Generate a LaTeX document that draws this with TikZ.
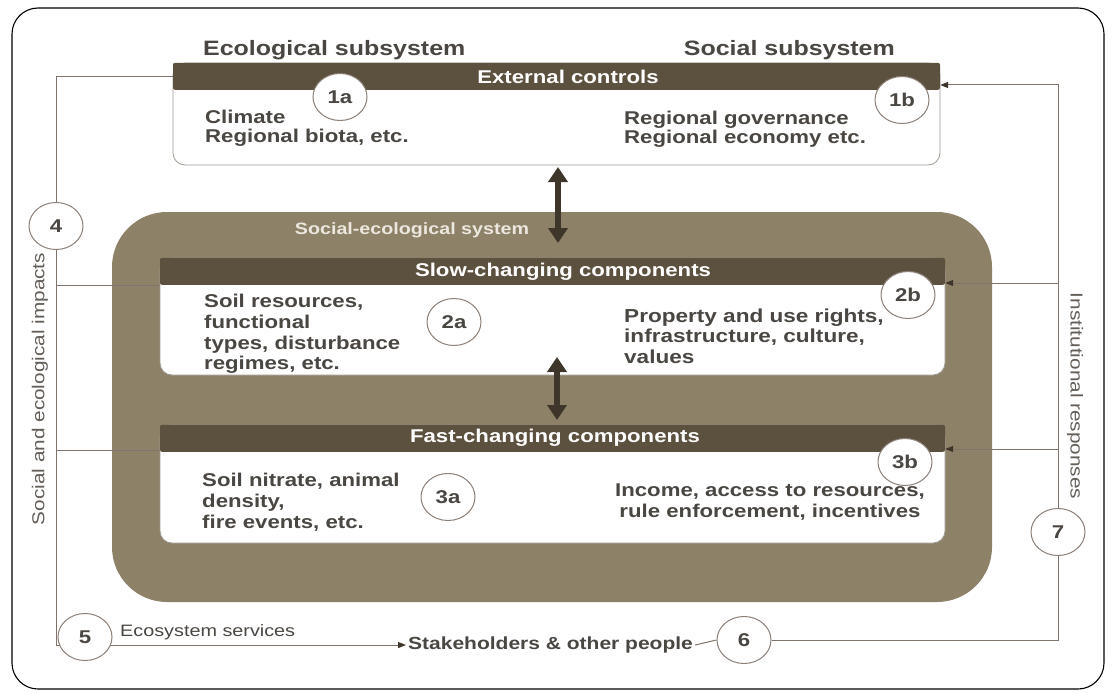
\documentclass[tikz,border=0pt]{standalone}
\usepackage{fontspec}
\setmainfont[FakeStretch=1.2]{Liberation Sans}
\usetikzlibrary{arrows.meta,shapes.geometric,calc}
\pgfdeclarelayer{back}
\pgfdeclarelayer{lines}
\pgfsetlayers{back,lines,main}
\definecolor{hdr}{RGB}{92,80,62}
\definecolor{ses}{RGB}{141,129,104}
\definecolor{txt}{RGB}{74,70,66}
\definecolor{lin}{RGB}{128,116,108}
\definecolor{circ}{RGB}{140,128,120}
\definecolor{boxline}{RGB}{160,154,146}
\definecolor{dbl}{RGB}{62,54,42}
\definecolor{sestxt}{RGB}{236,231,222}
\definecolor{vtxt}{RGB}{100,94,88}
\begin{document}
\begin{tikzpicture}[x=1pt,y=-1pt,
  panel/.style={draw=boxline,fill=white,line width=0.8pt,rounded corners=12pt,inner sep=0pt},
  hdrbar/.style={fill=hdr,rounded corners=2pt,inner sep=0pt,minimum height=27pt},
  hdrtext/.style={text=white,font=\bfseries\fontsize{18.5}{20}\selectfont,inner sep=0pt},
  title/.style={text=txt,font=\bfseries\fontsize{20.8}{23}\selectfont,inner sep=0pt},
  body/.style={text=txt,align=left,inner sep=0pt},
  num/.style={ellipse,draw=circ,fill=white,line width=1pt,minimum width=54pt,minimum height=47pt,inner sep=0pt,text=txt,font=\bfseries\fontsize{18.5}{20}\selectfont},
  conn/.style={draw=lin,line width=1pt},
  tip/.style={-{Triangle[length=8pt,width=6pt,color=dbl]}},
  dblarrow/.style={draw=dbl,line width=6pt,{Triangle[width=19pt,length=15pt]}-{Triangle[width=19pt,length=15pt]}},
  vert/.style={text=vtxt,font=\fontsize{17.3}{19}\selectfont,inner sep=0pt}
]
\useasboundingbox (0,0) rectangle (1112,693);
\begin{pgfonlayer}{back}
  \fill[white] (0,0) rectangle (1112,693);
  \draw[line width=1.1pt,rounded corners=26pt] (12,8) rectangle (1104,689);
  \node[fill=ses,rounded corners=55pt,minimum width=880pt,minimum height=390pt,inner sep=0pt] (ses) at (552,407) {};
  \node[panel,minimum width=767pt,minimum height=102pt] (ext) at (556.5,114) {};
  \node[hdrbar,minimum width=767pt,anchor=north] (exthead) at (ext.north) {};
  \node[panel,minimum width=785pt,minimum height=117pt] (slow) at (552.5,316.5) {};
  \node[hdrbar,minimum width=785pt,anchor=north] (slowhead) at (slow.north) {};
  \node[panel,minimum width=785pt,minimum height=118pt] (fast) at (552.5,484) {};
  \node[hdrbar,minimum width=785pt,anchor=north] (fasthead) at (fast.north) {};
\end{pgfonlayer}

% header labels
\node[hdrtext] (extlbl) at (568,77) {External controls};
\node[hdrtext] (slowlbl) at (563,271.5) {Slow-changing components};
\node[hdrtext] (fastlbl) at (555,438) {Fast-changing components};

% titles
\node[title,anchor=west] (ecotitle) at (203,50) {Ecological subsystem};
\node[title,anchor=east] (soctitle) at (895,50) {Social subsystem};
\node[text=sestxt,font=\bfseries\fontsize{16.4}{18}\selectfont,inner sep=0pt] (seslbl) at (412,230) {Social-ecological system};

% body texts
\node[body,anchor=west,font=\bfseries\fontsize{18.5}{19}\selectfont] (t1a) at (205,128) {Climate\\Regional biota, etc.};
\node[body,anchor=west,font=\bfseries\fontsize{18.5}{19}\selectfont] (t1b) at (624,129) {Regional governance\\Regional economy etc.};
\node[body,anchor=west,font=\bfseries\fontsize{18.5}{20.7}\selectfont] (t2a) at (204,334) {Soil resources,\\functional\\types, disturbance\\regimes, etc.};
\node[body,anchor=west,font=\bfseries\fontsize{18.8}{20.7}\selectfont] (t2b) at (624,336) {Property and use rights,\\infrastructure, culture,\\values};
\node[body,anchor=west,font=\bfseries\fontsize{18.5}{21}\selectfont] (t3a) at (202,502) {Soil nitrate, animal\\density,\\fire events, etc.};
\node[body,align=center,font=\bfseries\fontsize{18.5}{21}\selectfont] (t3b) at (770,502) {Income, access to resources,\\rule enforcement, incentives};

% bottom labels
\node[text=txt,font=\fontsize{16.5}{18}\selectfont,inner sep=0pt,anchor=west] (ecoserv) at (120,632) {Ecosystem services};
\node[text=txt,font=\bfseries\fontsize{17.5}{19}\selectfont,inner xsep=2pt,inner ysep=0pt,anchor=west] (stake) at (406,645) {Stakeholders \& other people};

% vertical labels
\node[vert,rotate=90] (impacts) at (40,389) {Social and ecological impacts};
\node[vert,rotate=-90] (instresp) at (1075,396) {Institutional responses};

% numbered circles
\node[num] (c1a) at (340,97) {1a};
\node[num] (c1b) at (902,100) {1b};
\node[num] (c2a) at (454,322) {2a};
\node[num] (c2b) at (908,295) {2b};
\node[num] (c3a) at (448,497) {3a};
\node[num] (c3b) at (905,462) {3b};
\node[num] (c4) at (56,226) {4};
\node[num] (c5) at (85,637) {5};
\node[num] (c6) at (744,640) {6};
\node[num] (c7) at (1058,532) {7};

\coordinate (a1top) at (558,167);
\coordinate (a1bot) at (558,243);
\coordinate (a2top) at (557,357);
\coordinate (a2bot) at (557,420);

\begin{pgfonlayer}{lines}
  % left side: impacts
  \draw[conn] (exthead.west) -| (c4.north);
  \draw[conn,tip] (c4.south) |- (stake.west);
  \draw[conn] (slowhead.south west) -- (slowhead.south west -| c4.south);
  \draw[conn] ([yshift=2pt]fasthead.south west) -- ([yshift=2pt]fasthead.south west -| c4.south);
  % bottom and right side: responses
  \draw[conn] (stake.east) -- (c6.west);
  \draw[conn] (c6.east) -| (c7.south);
  \draw[conn,tip] (c7.north) |- ([yshift=5pt]exthead.south east);
  \draw[conn,tip] (c7.north) |- ([yshift=2pt]slowhead.south east);
  \draw[conn,tip] (c7.north) |- ([yshift=3pt]fasthead.south east);
  % double arrows
  \draw[dblarrow] (a1top) -- (a1bot);
  \draw[dblarrow] (a2top) -- (a2bot);
\end{pgfonlayer}
\end{tikzpicture}
\end{document}
